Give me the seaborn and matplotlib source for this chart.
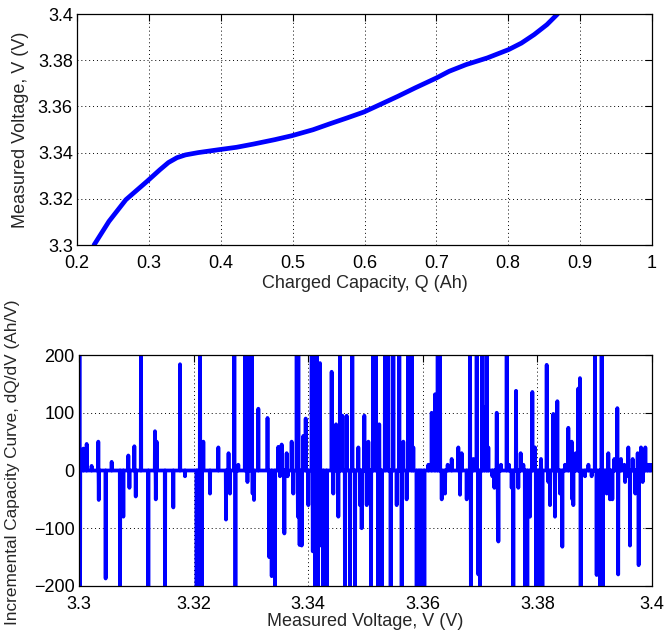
import numpy as np
import pandas as pd
import matplotlib
matplotlib.use("Agg")
import matplotlib.pyplot as plt
import seaborn as sns

# ---------------- data ----------------
# Top panel: charged capacity (Ah) vs measured voltage (V)
capacity_q = [0.2237, 0.2444, 0.2680, 0.2976, 0.3154, 0.3272, 0.3391, 0.3509, 0.3686,
              0.3982, 0.4219, 0.4456, 0.4751, 0.4988, 0.5284, 0.5521, 0.5757, 0.5994,
              0.6231, 0.6467, 0.6704, 0.7000, 0.7178, 0.7414, 0.7710, 0.8006, 0.8183,
              0.8361, 0.8538, 0.8686]
voltage_v = [3.3000, 3.3102, 3.3196, 3.3276, 3.3326, 3.3357, 3.3378, 3.3390, 3.3400,
             3.3413, 3.3423, 3.3437, 3.3456, 3.3473, 3.3499, 3.3525, 3.3550, 3.3576,
             3.3610, 3.3644, 3.3680, 3.3723, 3.3752, 3.3781, 3.3810, 3.3846, 3.3874,
             3.3911, 3.3954, 3.4000]

# Bottom panel: incremental capacity dQ/dV spikes (voltage, peak value)
ica_voltage = [
    3.30008, 3.30018, 3.30076, 3.30134, 3.3022, 3.30337, 3.30345, 3.30465, 3.3057,
    3.30716, 3.30774, 3.30861, 3.3088, 3.30966, 3.3099, 3.31082, 3.3121, 3.31326,
    3.3134, 3.31355, 3.31501, 3.31646, 3.31763, 3.3185, 3.32053, 3.3208, 3.32112,
    3.3214, 3.3217, 3.32286, 3.32432, 3.32565, 3.3261, 3.32635, 3.32711, 3.3273,
    3.3278, 3.32897, 3.3294, 3.32955, 3.33013, 3.3303, 3.33054, 3.3313, 3.3329,
    3.3332, 3.33363, 3.3342, 3.33479, 3.33508, 3.33537, 3.33584, 3.33624, 3.33641,
    3.33711, 3.3374, 3.33799, 3.3382, 3.33828, 3.3385, 3.33886, 3.33915, 3.33956,
    3.34002, 3.34061, 3.3408, 3.34107, 3.34125, 3.34148, 3.3417, 3.34206, 3.34225,
    3.34264, 3.34322, 3.34409, 3.34438, 3.34486, 3.34526, 3.34555, 3.34596, 3.34642,
    3.34671, 3.3473, 3.3477, 3.34817, 3.34875, 3.34904, 3.34933, 3.3498, 3.35021,
    3.3505, 3.35096, 3.35137, 3.35183, 3.35224, 3.3524, 3.35282, 3.3534, 3.35398,
    3.35439, 3.35486, 3.35544, 3.3559, 3.35631, 3.3566, 3.35718, 3.35748, 3.35806,
    3.35835, 3.35893, 3.35934, 3.35969, 3.36027, 3.36097, 3.36155, 3.36213, 3.3626,
    3.363, 3.3633, 3.36388, 3.36434, 3.36504, 3.3662, 3.3665, 3.36678, 3.36766,
    3.36824, 3.3684, 3.36882, 3.3694, 3.36969, 3.36998, 3.37039, 3.37074, 3.37115,
    3.37144, 3.37214, 3.37249, 3.3729, 3.3731, 3.37319, 3.37365, 3.37464, 3.37504,
    3.37551, 3.3758, 3.37627, 3.37667, 3.37708, 3.37755, 3.37784, 3.37824, 3.37871,
    3.37912, 3.37958, 3.37976, 3.38017, 3.38063, 3.38087, 3.38162, 3.38191, 3.3822,
    3.38278, 3.38307, 3.38348, 3.38394, 3.38435, 3.38482, 3.3854, 3.38598, 3.3861,
    3.38627, 3.38668, 3.38714, 3.38743, 3.38755, 3.38831, 3.3889, 3.38947, 3.39005,
    3.39034, 3.39092, 3.39121, 3.3914, 3.3918, 3.39209, 3.39238, 3.39267, 3.39308,
    3.39343, 3.39395, 3.3941, 3.39459, 3.39517, 3.3953, 3.39558, 3.39587, 3.39616,
    3.39663, 3.39709, 3.3975, 3.39767, 3.39808, 3.39837, 3.39884, 3.39924, 3.39965,
    3.4001]
ica_value = [
    300, -300, 38, 46, 8, 50, -51, -187, 15,
    -300, -80, 26, -30, 42, -45, 300, -300, 68,
    -50, 50, -300, -64, 184, -10, -300, -300, 300,
    -300, 50, -40, 40, -85, 30, -40, 300, -300,
    10, 300, -20, 300, 300, -40, -51, 107, 91,
    -150, -183, -300, 41, -10, 45, -109, 30, -10,
    50, -40, 300, -80, 300, -129, -130, 60, 90,
    -60, 300, -140, 300, -300, 300, -300, 186, -130,
    -300, -300, 171, -40, 80, -80, 300, 95, -300,
    95, -300, 300, -300, 40, -60, -100, 95, -60,
    50, -300, 300, 300, -300, 80, -300, 300, 300,
    -300, 300, -60, 300, -300, 50, -50, 300, 300,
    40, -300, -80, -300, -300, 10, 100, 132, 300,
    300, -50, -40, 10, 20, 40, -42, 30, -50,
    300, -300, 20, 300, -180, -300, 300, 110, 300,
    40, -10, -30, 100, -90, -123, 10, 300, 10,
    -30, -300, 138, -30, 30, 10, -300, -300, -80,
    136, 40, -300, -300, 20, -300, 183, -20, -60,
    98, -80, 120, -40, -132, 10, 74, 50, -50,
    -60, 30, 142, 160, -300, -10, 10, -10, 300,
    -181, -300, 300, -300, -30, -40, 30, -50, -50,
    20, 108, -180, 20, 10, -20, -10, 40, -130,
    20, -40, 30, -164, 40, -20, 40, 10, 10,
    10]

top_xticks = [0.2, 0.3, 0.4, 0.5, 0.6, 0.7, 0.8, 0.9, 1.0]
top_xticklabels = ["0.2", "0.3", "0.4", "0.5", "0.6", "0.7", "0.8", "0.9", "1"]
top_yticks = [3.30, 3.32, 3.34, 3.36, 3.38, 3.40]
top_yticklabels = ["3.3", "3.32", "3.34", "3.36", "3.38", "3.4"]
bot_xticks = [3.30, 3.32, 3.34, 3.36, 3.38, 3.40]
bot_xticklabels = ["3.3", "3.32", "3.34", "3.36", "3.38", "3.4"]
bot_yticks = [-200, -100, 0, 100, 200]
bot_yticklabels = ["\u2212200", "\u2212100", "0", "100", "200"]

# ---------------- style ----------------
sns.set_theme(style="white")
plt.rcParams["font.family"] = ["Liberation Sans", "DejaVu Sans"]
plt.rcParams["axes.edgecolor"] = "black"
plt.rcParams["axes.linewidth"] = 0.9

BLUE = "#0000ff"
FS = 13

fig = plt.figure(figsize=(6.65, 6.34), dpi=100)
ax1 = fig.add_axes([77 / 665, (634 - 245) / 634, (652 - 77) / 665, (245 - 14) / 634])
ax2 = fig.add_axes([79 / 665, (634 - 586) / 634, (652 - 79) / 665, (586 - 355) / 634])

# top panel
df_top = pd.DataFrame({"Q": capacity_q, "V": voltage_v})
sns.lineplot(data=df_top, x="Q", y="V", ax=ax1, color=BLUE, linewidth=3.4,
             sort=False, estimator=None)
ax1.set_xlim(0.2, 1.0)
ax1.set_ylim(3.3, 3.4)
ax1.set_xticks(top_xticks)
ax1.set_xticklabels(top_xticklabels)
ax1.set_yticks(top_yticks)
ax1.set_yticklabels(top_yticklabels)
ax1.set_xlabel("Charged Capacity, Q (Ah)", fontsize=FS, labelpad=2)
ax1.set_ylabel("Measured Voltage, V (V)", fontsize=FS)
ax1.yaxis.set_label_coords(-0.083, 0.5)

# bottom panel: build polyline from spike list (baseline between spikes)
delta = 0.00004
xs, ys = [], []
for v, p in zip(ica_voltage, ica_value):
    xs += [v - delta, v, v + delta]
    ys += [0, p, 0]
df_bot = pd.DataFrame({"V": xs, "dQdV": ys})
sns.lineplot(data=df_bot, x="V", y="dQdV", ax=ax2, color=BLUE, linewidth=2.7,
             sort=False, estimator=None)
ax2.set_xlim(3.3, 3.4)
ax2.set_ylim(-200, 200)
ax2.set_xticks(bot_xticks)
ax2.set_xticklabels(bot_xticklabels)
ax2.set_yticks(bot_yticks)
ax2.set_yticklabels(bot_yticklabels)
ax2.set_xlabel("Measured Voltage, V (V)", fontsize=FS, labelpad=0)
ax2.set_ylabel("Incremental Capacity Curve, dQ/dV (Ah/V)", fontsize=12.4)
ax2.yaxis.set_label_coords(-0.103, 0.535)

for ax in (ax1, ax2):
    ax.grid(True, linestyle=(0, (1, 3)), color="black", linewidth=0.7)
    ax.set_axisbelow(True)
    ax.tick_params(direction="in", length=5, width=0.8, labelsize=FS,
                   top=True, right=True, colors="black")
    ax.tick_params(axis="x", pad=7)
    ax.tick_params(axis="y", pad=3)
    for s in ax.spines.values():
        s.set_visible(True)
        s.set_color("black")
    ax.set_facecolor("white")

fig.patch.set_facecolor("white")
fig.savefig("out.png", dpi=100, facecolor="white")
